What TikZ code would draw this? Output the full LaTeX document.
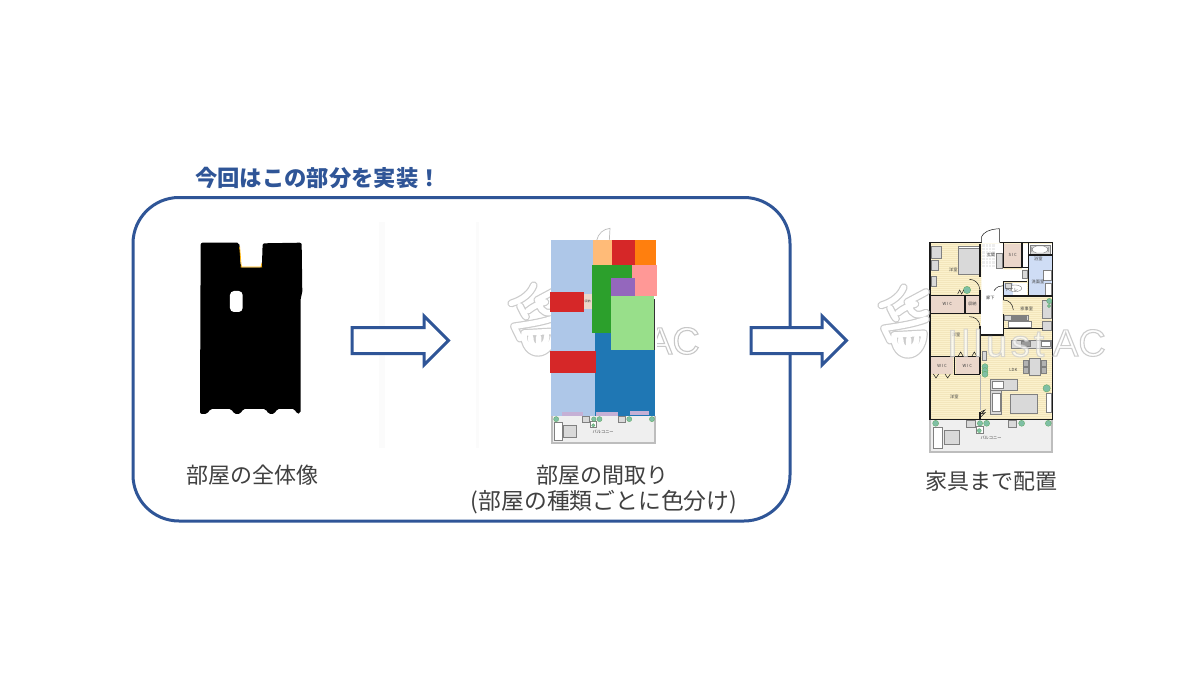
\documentclass[tikz,border=0pt]{standalone}
\usepackage{fontspec}
\setmainfont{Noto Sans CJK JP}
\newfontfamily\wmfont{Liberation Sans}
\definecolor{navy}{HTML}{2F5597}
\definecolor{txt}{HTML}{404040}
\definecolor{wall}{HTML}{1A1A1A}
\definecolor{cream}{HTML}{FBF1CC}
\definecolor{stripe}{HTML}{F3E6BC}
\definecolor{wicc}{HTML}{EBD7CB}
\definecolor{wm}{HTML}{CCCCCC}
\definecolor{balc}{HTML}{EFEFEF}
\definecolor{balb}{HTML}{BDBDBD}
\definecolor{plant}{HTML}{7FBFA5}
\definecolor{furn}{HTML}{D9D9D9}
\definecolor{wet}{HTML}{CFDDF5}
\definecolor{tabAEC}{HTML}{AEC7E8}
\definecolor{tabFFB}{HTML}{FFBB78}
\definecolor{tabD62}{HTML}{D62728}
\definecolor{tabFF7}{HTML}{FF7F0E}
\definecolor{tab2CA}{HTML}{2CA02C}
\definecolor{tabFF9}{HTML}{FF9896}
\definecolor{tab946}{HTML}{9467BD}
\definecolor{tab98D}{HTML}{98DF8A}
\definecolor{tab1F7}{HTML}{1F77B4}
\definecolor{tabC5B}{HTML}{C5B0D5}
\tikzset{
  captext/.style={font=\fontsize{22pt}{27pt}\selectfont,text=txt,inner sep=0pt,align=center},
  headline/.style={font=\fontsize{22.3pt}{27pt}\selectfont\bfseries,text=navy,inner sep=0pt},
  hollow/.style={draw=navy,line width=3pt,fill=white,miter limit=10},
  roomlabel/.style={font=\fontsize{4.2pt}{5pt}\selectfont,text=txt,inner sep=0pt},
  wl/.style={draw=wall,line width=1.6pt},
  hair/.style={draw=wall,line width=.5pt},
  fur/.style={draw=gray,line width=.4pt,fill=furn},
  pl/.style={draw=gray!70!green,line width=.3pt,fill=plant},
  wmstroke/.style={draw=wm,line width=1.2pt,double=white,double distance=5.5pt,line cap=round,line join=round},
}
\newcommand{\wmtext}[2][0]{{\wmfont\fontsize{38pt}{38pt}\selectfont\addfontfeature{LetterSpace=#1}\color{white}\special{pdf:code 2 Tr 1.1 w 0.78 G}#2\special{pdf:code 0 Tr}}}
% watermark emblem, in the 1/3 px coordinates of the right panel
\newcommand{\wmlogo}{%
  \draw[wmstroke]
    (101,202) .. controls (92,225) and (70,245) .. (34,256)
    (60,264) .. controls (68,280) and (72,290) .. (78,296)
    (112,246) -- (168,216)
    (84,278) .. controls (100,265) and (120,255) .. (136,252)
    (118,262) .. controls (125,280) and (140,292) .. (168,278)
    (42,325) .. controls (90,318) and (130,312) .. (168,298)
    (42,325) -- (60,362)
    (72,345) .. controls (70,425) and (158,425) .. (162,340)
    (92,358) .. controls (90,398) and (138,398) .. (140,355)
    (116,358) -- (116,392)
    (72,345) -- (162,340);
}
% balcony details, in the 1/3 px coordinates of the right panel
\newcommand{\balconyitems}{%
  \fill[balc] (182,600) rectangle (546,692);
  \draw[balb,line width=2pt] (181,600) -- (181,695) -- (547,695) -- (547,600);
  \draw[fur,fill=white] (190,622) rectangle (217,685);
  \draw[fur] (223,630) rectangle (269,674);
  \draw[fur] (290,600) rectangle (315,622);
  \draw[fur,fill=white] (318,618) rectangle (340,640);
  \draw[fur] (415,600) rectangle (440,622);
  \foreach \p/\r in {197/9,330/8,350/9,455/9,535/9}{\draw[pl] (\p,610) circle (\r);}
  \draw[pl] (328,632) circle (6);
  \node[roomlabel] (bal) at (363,655) {バルコニー};
}
\begin{document}
\begin{tikzpicture}[x=1pt,y=-1pt]
\useasboundingbox (0,0) rectangle (1200,675);
\fill[white] (0,0) rectangle (1200,675);

% faint scan residue
\fill[black!1.5] (379,222) rectangle (385,448);
\fill[black!1.5] (476,222) rectangle (479,448);

% frame and title
\draw[navy,line width=3pt,rounded corners=46pt] (133,197.5) rectangle (790,521);
\node[headline] (title) at (318,178) {今回はこの部分を実装！};

% left: black room mask
\begin{scope}[shift={(180,220)},x=.3333pt,y=-.3333pt]
  \fill[black,rounded corners=2pt] (62,68) -- (178,68) -- (182,135) .. controls (184,141) and (186,142) .. (190,142)
    -- (236,142) .. controls (242,142) and (245,138) .. (246,130) -- (248,70) -- (365,68)
    -- (367,220) -- (362,232) -- (362,580) -- (350,582) -- (345,567) -- (290,567) -- (284,582) -- (265,582) -- (258,567)
    -- (188,567) -- (182,582) -- (162,582) -- (155,567) -- (90,567) -- (82,582) -- (60,582) -- cycle;
  \fill[white,rounded corners=4pt] (150,213) rectangle (188,276);
  \draw[orange!60!yellow,line width=.7pt,rounded corners=3pt] (179,80) -- (183,132) .. controls (184,139) and (186,141) .. (191,141) -- (236,141) .. controls (242,141) and (244,138) .. (245,130);
\end{scope}

% middle: watermark below the colours
\begin{scope}[shift={(500,225)},x=.3333pt,y=-.3333pt]
  \begin{scope}[yshift=7pt]
    \wmlogo
  \end{scope}
\end{scope}
\node[anchor=east,inner sep=0pt] (wmb) at (700,341) {\wmtext{AC}};

% middle: coloured layout
\begin{scope}[shift={(500,225)},x=.3333pt,y=-.3333pt]
  \draw[balb,line width=.7pt] (290,46) .. controls (295,25) and (310,12) .. (330,10) -- (328,46);
  \fill[tabAEC] (152,46) rectangle (286,574);
  \fill[tabFFB] (280,46) rectangle (336,120);
  \fill[tabD62] (336,46) rectangle (404,120);
  \fill[tabFF7] (404,46) rectangle (468,120);
  \fill[tab2CA] (275,120) rectangle (398,170);
  \fill[tab2CA] (275,170) rectangle (334,323);
  \fill[tabFF9] (396,120) rectangle (470,214);
  \fill[tab946] (332,160) rectangle (404,216);
  \fill[white] (462,214) rectangle (470,375);
  \fill[tab98D] (334,214) rectangle (462,375);
  \fill[black!80] (462,222) rectangle (465,375);
  \fill[tab1F7] (286,323) rectangle (334,375);
  \fill[tab1F7] (286,375) rectangle (465,576);
  \fill[tabD62] (151,200) rectangle (252,262);
  \fill[wicc] (252,207) rectangle (275,253);
  \node[roomlabel,font=\fontsize{3pt}{3pt}\selectfont] (mst) at (263,230) {収納};
  \fill[tabD62] (149,377) rectangle (288,445);
  \fill[tabC5B] (185,562) rectangle (248,574);
  \fill[tabC5B] (288,560) rectangle (353,576);
  \fill[tabC5B] (389,557) rectangle (446,570);
  \begin{scope}[shift={(155,574)},x=.2833pt,y=-.2833pt]
    \begin{scope}[xshift=-51.3pt,yshift=170pt]
      \balconyitems
    \end{scope}
  \end{scope}
\end{scope}

% right: furnished floor plan
\begin{scope}[shift={(870,220)},x=.3333pt,y=-.3333pt]
  \fill[cream] (180,68) rectangle (548,598);
  \begin{scope}
    \clip (182,70) rectangle (546,596);
    \foreach \yy in {72,78,...,596}{\draw[stripe,line width=.35pt] (182,\yy) -- (546,\yy);}
  \end{scope}
  % corridor and wet areas
  \fill[white] (335,70) -- (400,70) -- (400,148) -- (470,148) -- (470,185) -- (398,185) -- (398,282) -- (400,345) -- (333,345) -- cycle;
  \fill[black!7] (336,72) rectangle (378,145);
  \foreach \u in {345,355,...,375}{\draw[white,line width=.4pt] (\u,72) -- (\u,145);}
  \foreach \v in {82,92,...,142}{\draw[white,line width=.4pt] (336,\v) -- (378,\v);}
  \fill[wicc] (400,72) rectangle (456,143);
  \fill[white] (456,72) rectangle (475,148);
  \fill[white] (475,72) rectangle (546,105);
  \fill[wet] (475,105) rectangle (546,145);
  \fill[wet] (475,145) rectangle (546,228);
  \fill[white] (420,190) rectangle (470,228);
  \fill[wet] (400,190) rectangle (430,228);
  \fill[wicc] (182,228) rectangle (285,278);
  \fill[wicc] (288,228) rectangle (330,278);
  \fill[wicc] (182,412) rectangle (250,462);
  \fill[wicc] (258,412) rectangle (330,462);
  % furniture
  \draw[fur] (266,78) rectangle (328,162);
  \draw[fur,fill=white] (266,78) rectangle (328,85);
  \draw[fur] (184,80) rectangle (215,115);
  \draw[fur] (184,120) rectangle (205,150);
  \draw[fur] (184,168) rectangle (200,198);
  \draw[fur] (480,75) rectangle (540,102);
  \draw[fur,rounded corners=5pt,fill=white] (485,78) rectangle (535,99);
  \draw[fur] (380,100) rectangle (398,145);
  \draw[fur] (458,150) rectangle (472,175);
  \draw[fur,fill=white] (520,150) rectangle (544,180);
  \draw[fur,fill=white] (525,190) rectangle (544,228);
  \draw[fur,fill=white] (435,205) ellipse (20 and 10);
  \draw[fur] (405,190) rectangle (425,205);
  \draw[fur] (402,285) rectangle (475,300);
  \draw[fur,fill=black!50] (425,290) rectangle (470,297);
  \draw[fur,fill=white] (415,305) rectangle (485,323);
  \draw[fur] (518,240) rectangle (545,295);
  \draw[fur] (518,305) rectangle (545,332);
  \draw[fur] (425,362) rectangle (545,385);
  \draw[fur,fill=black!40] (455,365) rectangle (480,380);
  \draw[fur,fill=white] (515,365) rectangle (540,380);
  \draw[fur] (478,415) rectangle (510,465);
  \draw[fur,fill=black!30] (460,420) rectangle (475,438);
  \draw[fur,fill=black!30] (460,442) rectangle (475,460);
  \draw[fur,fill=black!30] (514,420) rectangle (528,438);
  \draw[fur,fill=black!30] (514,442) rectangle (528,460);
  \draw[fur] (360,478) rectangle (442,510);
  \draw[fur] (360,510) rectangle (395,582);
  \draw[fur,fill=white] (368,520) rectangle (390,575);
  \draw[fur,fill=white] (368,484) rectangle (400,505);
  \draw[fur] (420,524) rectangle (502,580);
  \draw[fur,fill=white] (528,520) rectangle (545,578);
  \draw[fur] (338,395) rectangle (348,420);
  \draw[black!30,line width=.7pt] (331,465) -- (331,570);
  \foreach \a/\b/\r in {291/210/11,345/440/9,345/452/9,345/463/9,530/505/11,538/243/8,537/258/5}{\draw[pl] (\a,\b) circle (\r);}
  % walls
  \draw[wl] (335,68) -- (180,68) -- (180,598) -- (548,598) -- (548,68) -- (390,68);
  \draw[wl] (330,72) -- (330,172);
  \draw[wl] (330,210) -- (330,282);
  \draw[wl] (182,226) -- (330,226);
  \draw[wl] (285,226) -- (285,280);
  \draw[wl] (182,280) -- (330,280);
  \draw[wl] (330,318) -- (330,462);
  \draw[wl] (182,410) -- (330,410);
  \draw[wl] (253,410) -- (253,465);
  \draw[wl] (253,464) -- (330,464);
  \draw[wl] (332,345) -- (400,345) -- (400,325) -- (520,325);
  \draw[wl] (400,70) -- (400,143) -- (475,143);
  \draw[wl] (456,70) -- (456,143);
  \draw[wl] (475,70) -- (475,228) -- (400,228) -- (400,185) -- (470,185);
  \draw[wl] (475,228) -- (546,228);
  \draw[wl] (475,105) -- (546,105);
  \draw[wl] (400,228) -- (400,240);
  \draw[wl] (400,282) -- (400,325);
  \draw[wl] (330,575) -- (330,598);
  % doors
  \draw[hair,fill=white] (335,68) -- (335,50) .. controls (340,38) and (355,28) .. (388,26) -- (388,68);
  \draw[hair] (298,178) .. controls (315,178) and (328,190) .. (330,210);
  \draw[hair] (298,290) .. controls (315,290) and (328,300) .. (330,318);
  \draw[hair] (400,240) .. controls (418,240) and (428,252) .. (430,270);
  \draw[hair] (372,212) .. controls (380,200) and (390,197) .. (400,197);
  \draw[hair] (263,222) -- (269,210) -- (275,222) -- (281,210);
  \draw[hair] (190,462) -- (198,474) -- (206,462);
  \draw[hair] (225,462) -- (233,474) -- (241,462);
  \draw[hair] (265,408) -- (272,396) -- (279,408);
  \draw[hair] (306,408) -- (313,396) -- (320,408);
  \draw[hair] (333,575) -- (345,570) -- (333,582) -- (345,578) -- (333,590);
  % room labels
  \node[roomlabel] (l1) at (363,105) {玄関};
  \node[roomlabel] (l2) at (428,105) {S I C};
  \node[roomlabel] (l3) at (505,118) {浴室};
  \node[roomlabel] (l4) at (504,186) {洗面室};
  \node[roomlabel] (l5) at (425,210) {トイレ};
  \node[roomlabel] (l6) at (361,233) {廊下};
  \node[roomlabel] (l7) at (470,267) {家事室};
  \node[roomlabel] (l8) at (232,252) {W I C};
  \node[roomlabel] (l9) at (307,252) {収納};
  \node[roomlabel] (l10) at (216,438) {W I C};
  \node[roomlabel] (l11) at (292,438) {W I C};
  \node[roomlabel] (l12) at (250,150) {洋室};
  \node[roomlabel] (l13) at (258,345) {洋室};
  \node[roomlabel] (l14) at (253,530) {洋室};
  \node[roomlabel] (l15) at (430,450) {LDK};
  \balconyitems
  \wmlogo
\end{scope}
\node[anchor=west,inner sep=0pt,opacity=.65] (wmc) at (947,343) {\wmtext[10]{Illust}};
\node[anchor=east,inner sep=0pt,opacity=.9] (wmd) at (1106,343) {\wmtext{AC}};

% arrows
\coordinate (a1) at (352,340.5);
\coordinate (a2) at (751,340.5);
\draw[hollow] (a1) ++(0,-13) -- ++(72,0) -- ++(0,-11.5) -- ++(24.5,24.5) -- ++(-24.5,24.5) -- ++(0,-11.5) -- ++(-72,0) -- cycle;
\draw[hollow] (a2) ++(0,-13) -- ++(71,0) -- ++(0,-11.5) -- ++(24.5,24.5) -- ++(-24.5,24.5) -- ++(0,-11.5) -- ++(-71,0) -- cycle;

% captions
\node[captext] (c1) at (252,475) {部屋の全体像};
\node[captext] (c2) at (602,475) {部屋の間取り};
\node[captext,font=\fontsize{22.8pt}{27pt}\selectfont] (c3) at (604,502) {(部屋の種類ごとに色分け)};
\node[captext] (c4) at (991,481) {家具まで配置};
\end{tikzpicture}
\end{document}
